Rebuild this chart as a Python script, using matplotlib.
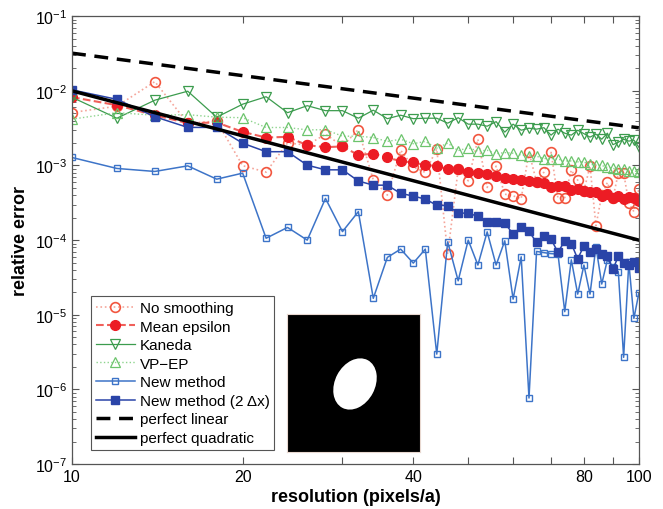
import numpy as np
import matplotlib
matplotlib.use("Agg")
import matplotlib.pyplot as plt
from matplotlib.patches import Ellipse
from matplotlib.ticker import FixedLocator, LogLocator, NullFormatter

plt.rcParams['font.family'] = ['Liberation Sans', 'DejaVu Sans']
plt.rcParams['mathtext.fontset'] = 'custom'
plt.rcParams['mathtext.rm'] = 'Liberation Sans'
plt.rcParams['mathtext.it'] = 'Liberation Sans:italic'
plt.rcParams['mathtext.bf'] = 'Liberation Sans:bold'

# resolution (pixels/a)
res = np.arange(10, 101, 2)

no_smoothing = [5.13e-3, 6.23e-3, 1.33e-2, 3.69e-3, 3.93e-3, 9.95e-4, 8.15e-4, 2.01e-3,
                1.87e-3, 2.63e-3, 1.82e-3, 3.02e-3, 6.42e-4, 4.01e-4, 1.60e-3, 9.56e-4,
                8.07e-4, 1.67e-3, 6.5e-5, 8.93e-4, 6.23e-4, 2.25e-3, 5.08e-4, 9.8e-4,
                4.13e-4, 3.92e-4, 3.60e-4, 1.51e-3, 5.98e-4, 8.15e-4, 1.50e-3, 3.62e-4,
                3.71e-4, 8.66e-4, 6.36e-4, 4.6e-4, 9.8e-4, 1.56e-4, 4.01e-4, 5.93e-4,
                3.65e-4, 7.9e-4, 7.95e-4, 3.13e-4, 2.41e-4, 4.82e-4]

mean_epsilon = [8.23e-3, 6.43e-3, 4.72e-3, 3.69e-3, 3.77e-3, 2.82e-3, 2.37e-3, 2.42e-3,
                1.87e-3, 1.76e-3, 1.80e-3, 1.38e-3, 1.44e-3, 1.28e-3, 1.14e-3, 1.10e-3,
                1.01e-3, 9.89e-4, 8.93e-4, 8.93e-4, 8.22e-4, 7.90e-4, 7.66e-4, 7.13e-4,
                6.77e-4, 6.56e-4, 6.42e-4, 6.23e-4, 5.93e-4, 5.75e-4, 5.08e-4, 5.24e-4,
                5.34e-4, 4.72e-4, 4.82e-4, 4.57e-4, 4.35e-4, 4.35e-4, 3.92e-4, 4.13e-4,
                3.65e-4, 3.85e-4, 3.54e-4, 3.73e-4, 3.62e-4, 3.36e-4]

kaneda = [8.2e-3, 4.3e-3, 7.5e-3, 9.9e-3, 4.44e-3, 6.63e-3, 8.35e-3, 5.1e-3,
          6.33e-3, 5.43e-3, 5.43e-3, 4.3e-3, 5.51e-3, 4.24e-3, 4.72e-3, 4.24e-3,
          4.3e-3, 4.3e-3, 3.69e-3, 4.37e-3, 3.58e-3, 3.58e-3, 3.36e-3, 3.87e-3,
          2.80e-3, 3.58e-3, 2.97e-3, 3.16e-3, 3.07e-3, 3.21e-3, 2.55e-3, 3.07e-3,
          2.71e-3, 2.55e-3, 2.97e-3, 2.67e-3, 2.40e-3, 2.63e-3, 2.25e-3, 2.71e-3,
          1.90e-3, 2.05e-3, 2.25e-3, 2.12e-3, 2.19e-3, 1.76e-3]

vp_ep = [4.18e-3, 5.1e-3, 4.72e-3, 4.80e-3, 4.44e-3, 4.37e-3, 3.23e-3, 3.23e-3,
         3.0e-3, 3.02e-3, 2.47e-3, 2.47e-3, 2.37e-3, 2.10e-3, 2.25e-3, 1.96e-3,
         2.10e-3, 1.71e-3, 1.99e-3, 1.58e-3, 1.73e-3, 1.56e-3, 1.60e-3, 1.44e-3,
         1.49e-3, 1.46e-3, 1.38e-3, 1.35e-3, 1.33e-3, 1.24e-3, 1.24e-3, 1.22e-3,
         1.15e-3, 1.15e-3, 1.12e-3, 1.11e-3, 1.04e-3, 1.01e-3, 1.0e-3, 9.41e-4,
         9.13e-4, 8.93e-4, 8.93e-4, 8.48e-4, 8.42e-4, 8.27e-4]

new_method = [1.28e-3, 9.13e-4, 8.32e-4, 9.89e-4, 6.56e-4, 7.9e-4, 1.06e-4, 1.48e-4,
              1.0e-4, 3.62e-4, 1.30e-4, 2.41e-4, 1.66e-5, 5.87e-5, 7.58e-5, 4.92e-5,
              7.58e-5, 2.97e-6, 9.49e-5, 2.85e-5, 1.0e-4, 4.63e-5, 1.29e-4, 4.63e-5,
              9.79e-5, 1.62e-5, 5.98e-5, 7.66e-7, 7.06e-5, 6.80e-5, 6.59e-5, 6.5e-5,
              1.10e-5, 5.45e-5, 1.89e-5, 4.63e-5, 1.89e-5, 8.14e-5, 2.58e-5, 5.45e-5,
              4.35e-5, 3.76e-5, 2.69e-6, 5.03e-5, 8.94e-6, 1.95e-5]

new_method_2dx = [1.03e-2, 7.7e-3, 4.5e-3, 3.24e-3, 3.24e-3, 1.99e-3, 1.53e-3, 1.53e-3,
                  1.01e-3, 8.75e-4, 8.75e-4, 6.2e-4, 5.45e-4, 5.45e-4, 4.22e-4, 3.9e-4,
                  3.54e-4, 2.94e-4, 2.9e-4, 2.3e-4, 2.3e-4, 2.08e-4, 1.73e-4, 1.73e-4,
                  1.7e-4, 1.2e-4, 1.5e-4, 1.31e-4, 9.3e-5, 1.12e-4, 1.03e-4, 6.85e-5,
                  9.8e-5, 9.0e-5, 5.6e-5, 8.4e-5, 6.85e-5, 7.6e-5, 6.5e-5, 6.05e-5,
                  4.1e-5, 6.05e-5, 4.9e-5, 4.6e-5, 5.1e-5, 4.2e-5]

ref_res = [10, 100]
perfect_linear = [3.2e-2, 3.2e-3]
perfect_quadratic = [1.0e-2, 1.0e-4]

x_ticks = [10, 20, 30, 40, 50, 60, 70, 80, 90, 100]
x_ticklabels = ['10', '20', '', '40', '', '', '', '80', '', '100']

fig = plt.figure(figsize=(6.63, 5.10), dpi=100)
ax = fig.add_axes([0.1086, 0.0882, 0.855, 0.878])

ax.plot(res, no_smoothing, ':', color='#f5a59a', lw=1.2, marker='o', ms=7,
        mfc='none', mec='#f2563f', mew=1.2, label='No smoothing')
ax.plot(res, mean_epsilon, '--', color='#f0605a', lw=1.5, marker='o', ms=7,
        mfc='#ec1c24', mec='#ec1c24', label='Mean epsilon')
ax.plot(res, kaneda, '-', color='#3c9c4e', lw=0.9, marker='v', ms=7,
        mfc='none', mec='#3c9c4e', mew=0.9, label='Kaneda')
ax.plot(res, vp_ep, ':', color='#8ed48e', lw=1.0, marker='^', ms=7,
        mfc='none', mec='#6cc46c', mew=0.9, label='VP\u2212EP')
ax.plot(res, new_method, '-', color='#3d74c8', lw=1.1, marker='s', ms=5,
        mfc='none', mec='#3d74c8', mew=1.0, label='New method')
ax.plot(res, new_method_2dx, '-', color='#2a44a8', lw=1.1, marker='s', ms=5.5,
        mfc='#2a44a8', mec='#2a44a8', label='New method (2 \u0394x)')
ax.plot(ref_res, perfect_linear, '--', color='black', lw=2.5, dashes=(4, 2.5),
        label='perfect linear')
ax.plot(ref_res, perfect_quadratic, '-', color='black', lw=2.5,
        label='perfect quadratic')

ax.set_xscale('log')
ax.set_yscale('log')
ax.set_xlim(10, 100)
ax.set_ylim(1e-7, 1e-1)

ax.xaxis.set_major_locator(FixedLocator(x_ticks))
ax.set_xticklabels(x_ticklabels)
ax.xaxis.set_minor_locator(FixedLocator([]))
ax.xaxis.set_minor_formatter(NullFormatter())
ax.yaxis.set_major_locator(LogLocator(base=10, numticks=10))
ax.yaxis.set_minor_locator(LogLocator(base=10, subs=np.arange(2, 10), numticks=10))
ax.yaxis.set_minor_formatter(NullFormatter())

axis_col = '#555555'
for s in ax.spines.values():
    s.set_color(axis_col)
    s.set_linewidth(0.9)
ax.tick_params(which='both', direction='in', top=True, right=True, colors=axis_col,
               labelcolor='black', labelsize=11.5)
ax.tick_params(which='major', length=5)
ax.tick_params(which='minor', length=3)

ax.set_xlabel('resolution (pixels/a)', fontsize=13, fontweight='bold', labelpad=3)
ax.set_ylabel('relative error', fontsize=13, fontweight='bold', labelpad=4)

leg = ax.legend(loc='lower left', bbox_to_anchor=(0.02, 0.015), fontsize=11,
                handlelength=2.6, borderpad=0.3, labelspacing=0.3,
                handletextpad=0.3, fancybox=False, framealpha=1)
leg.get_frame().set_edgecolor('#555555')
leg.get_frame().set_linewidth(0.8)

# inset: sketch of the tilted elliptical inclusion
inset = fig.add_axes([0.4329, 0.1118, 0.2006, 0.2706])
inset.set_facecolor('black')
inset.set_xlim(0, 133)
inset.set_ylim(0, 138)
inset.add_patch(Ellipse((68, 68), width=54, height=40, angle=62,
                        facecolor='white', edgecolor='none'))
inset.set_xticks([])
inset.set_yticks([])
for s in inset.spines.values():
    s.set_color('#e8d8d0')

fig.savefig('out.png', dpi=100)
